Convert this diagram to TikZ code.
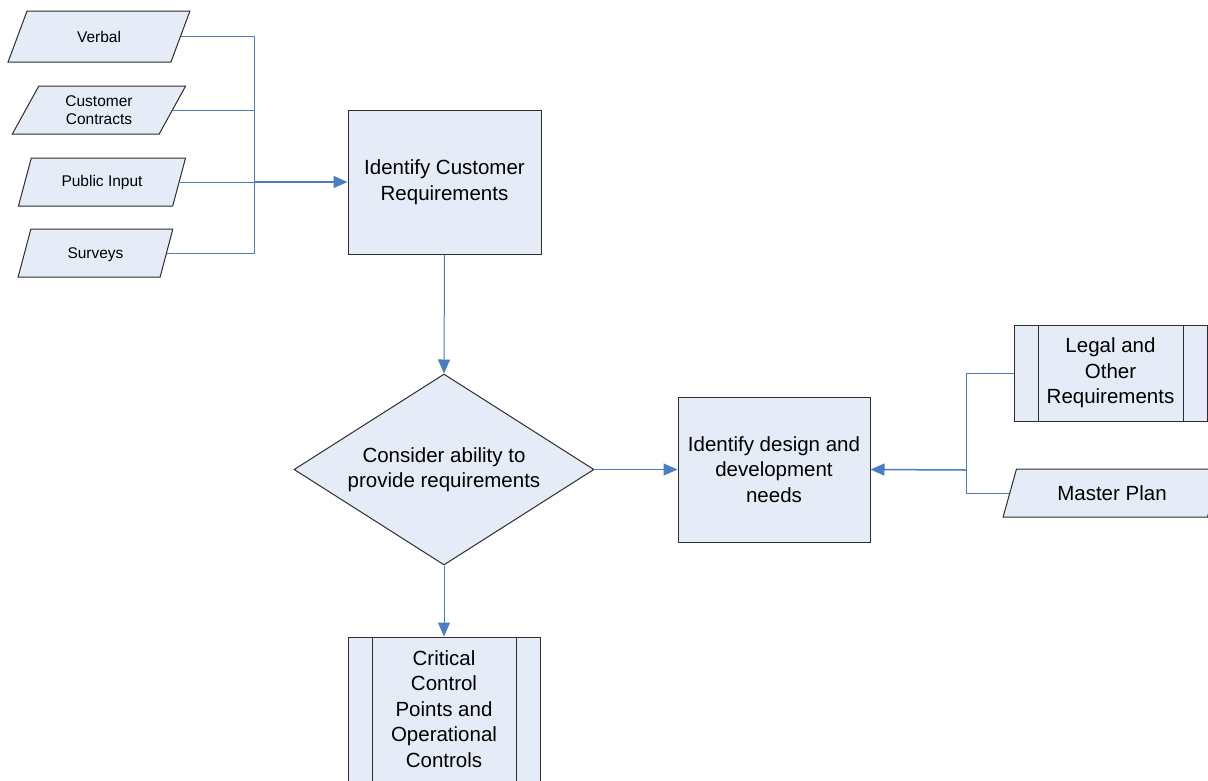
\documentclass[tikz,border=0pt]{standalone}
\usepackage{fontspec}
\setmainfont{Liberation Sans}
\usetikzlibrary{shapes.geometric,arrows.meta}
\definecolor{boxfill}{RGB}{230,236,247}
\definecolor{conn}{RGB}{74,126,193}
\definecolor{edgecol}{RGB}{45,45,45}
\begin{document}
\begin{tikzpicture}[x=1pt,y=-1pt,
  base/.style={draw=edgecol,fill=boxfill,line width=1pt,inner sep=0pt,align=center,text=black},
  bigfont/.style={font=\fontsize{20.5}{25.5}\selectfont},
  smallfont/.style={font=\fontsize{15.5}{18}\selectfont},
  procbox/.style={base,bigfont,rectangle,minimum width=193pt,minimum height=144pt},
  predef/.style={base,bigfont,rectangle,path picture={
      \draw[edgecol,line width=1pt]
        ([xshift=24pt]path picture bounding box.north west) -- ([xshift=24pt]path picture bounding box.south west)
        ([xshift=-24pt]path picture bounding box.north east) -- ([xshift=-24pt]path picture bounding box.south east);}},
  iobox/.style={base,trapezium,trapezium left angle=63,trapezium right angle=117,trapezium stretches=true},
  decision/.style={base,bigfont,diamond,aspect=1.57,minimum width=300pt,minimum height=191pt},
  link/.style={draw=conn,line width=1pt},
  arrowlink/.style={link,-{Triangle[length=14pt,width=12pt]}}
]
\useasboundingbox (0,0) rectangle (1208,780);
\clip (0,0) rectangle (1208,780);

% inputs
\node[iobox,smallfont,minimum width=182pt,minimum height=51pt] (verbal) at (99,36.5) {Verbal};
\node[iobox,smallfont,minimum width=174pt,minimum height=48pt] (contracts) at (99,110) {Customer\\Contracts};
\node[iobox,smallfont,minimum width=168pt,minimum height=48pt] (public) at (102,182) {Public Input};
\node[iobox,smallfont,minimum width=155pt,minimum height=48pt,text depth=0pt] (surveys) at (95.5,253) {Surveys};

% main flow
\node[procbox] (idc) at (444.5,182) {Identify Customer\\Requirements};
\node[decision] (consider) at (444,469.5) {Consider ability to\\provide requirements};
\node[procbox,minimum width=192pt,minimum height=145pt] (design) at (774,469.5) {Identify design and\\development\\needs};
\node[predef,minimum width=192pt,minimum height=144pt] (critical) at (444,709) {Critical\\Control\\Points and\\Operational\\Controls};

% right inputs
\node[predef,minimum width=193pt,minimum height=96pt] (legal) at (1110.5,373) {Legal and\\Other\\Requirements};
\node[iobox,bigfont,minimum width=218pt,minimum height=48pt] (master) at (1112,493) {Master Plan};

% junctions
\coordinate (jl) at (254,182);
\coordinate (jr) at (966,470);

% left connectors
\draw[link] (verbal.right side) -| (jl);
\draw[link] (contracts.right side) -| (jl);
\draw[link] (public.right side) -- (jl);
\draw[link] (surveys.right side) -| (jl);
\draw[arrowlink,line width=1.5pt] (jl) -- (idc.west);

% main arrows
\draw[arrowlink] (idc.south) -- (consider.north);
\draw[arrowlink] (consider.east) -- (design.west);
\draw[arrowlink] (consider.south) -- (critical.north);

% right connectors
\draw[link] (legal.west) -| (jr);
\draw[link] (master.left side) -| (jr);
\draw[arrowlink,line width=1.5pt] (jr) -- (design.east);
\end{tikzpicture}
\end{document}
